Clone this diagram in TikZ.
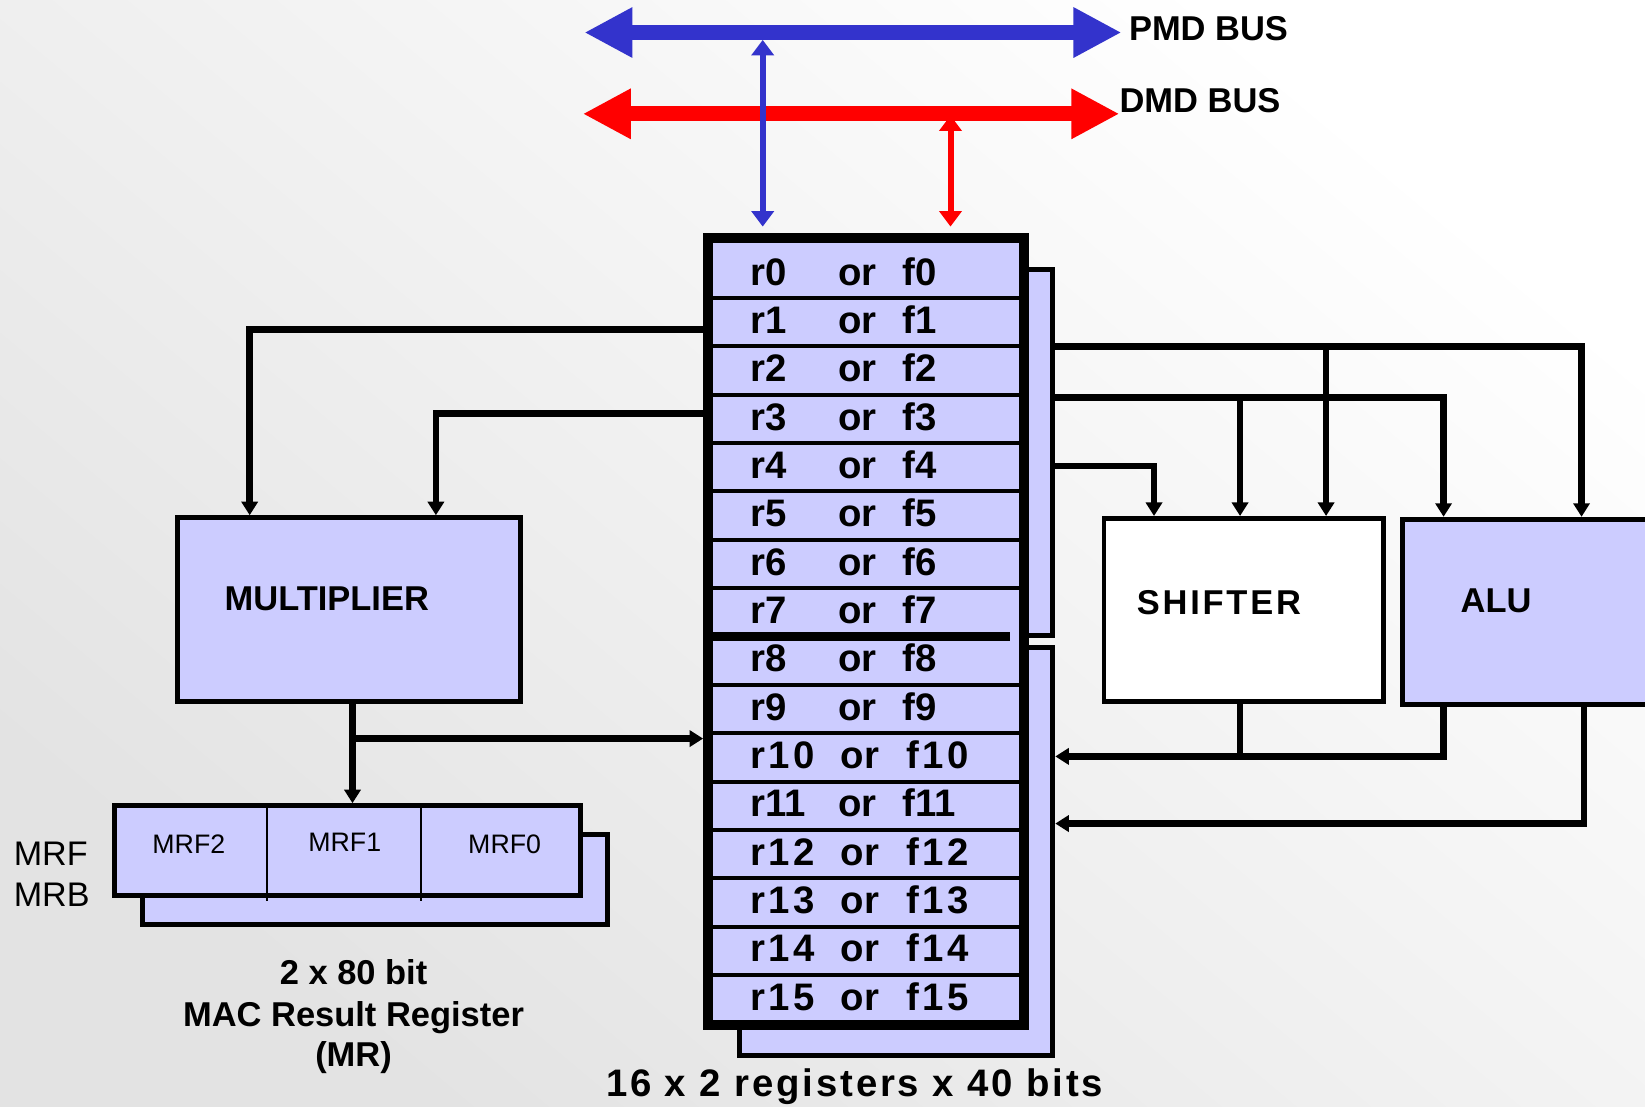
\documentclass[tikz,border=0pt]{standalone}
\usepackage{fontspec}
\setmainfont{Liberation Sans}
\newfontfamily\trackfont{Liberation Sans}[LetterSpace=9]
\newfontfamily\capfont{Liberation Sans}[LetterSpace=7.4]
\newfontfamily\shiftfont{Liberation Sans}[LetterSpace=8]
\usepackage{tikz}
\usetikzlibrary{arrows.meta,positioning}
\newlength\px
\setlength\px{0.01049cm}
\definecolor{regfill}{HTML}{CCCCFF}
\definecolor{pmdblue}{HTML}{3333CC}
\definecolor{dmdred}{HTML}{FF0000}

\begin{document}
\begin{tikzpicture}[
  x=0.01049cm, y=-0.01049cm,
  unit/.style={rectangle,draw,line width=0.05cm,fill=regfill,inner sep=0pt},
  lbl/.style={inner sep=0pt,font=\fontsize{9.8pt}{11.8pt}\selectfont\bfseries},
  small/.style={inner sep=0pt,font=\fontsize{7.6pt}{9pt}\selectfont},
  side/.style={inner sep=0pt,font=\fontsize{9.7pt}{11.6pt}\selectfont},
  regtxt/.style={inner sep=0pt,anchor=base west,font=\fontsize{10.9pt}{12pt}\selectfont\bfseries},
  rowsep/.style={line width=0.04cm},
  wire/.style={line width=0.065cm},
  feed/.style={wire,-{Triangle[length=1.35mm,width=1.6mm]}},
  link/.style={line width=0.06cm,{Triangle[length=1.55mm,width=2.2mm]}-{Triangle[length=1.55mm,width=2.2mm]}},
  bus/.style={line width=0.15cm,{Triangle[length=4.8mm,width=4.7mm]}-{Triangle[length=4.8mm,width=4.7mm]}},
]
\clip (0,0) rectangle (1568,1055);
\shade[top color=white,middle color=black!4,bottom color=black!11,shading angle=-40]
  (0,0) rectangle (1568,1055);

%% --- buses ---------------------------------------------------------------
\coordinate (pmdL) at (557,31);
\coordinate (pmdR) at (1069,31);
\coordinate (dmdL) at (555.5,108.5);
\coordinate (dmdR) at (1067,108.5);
\draw[bus,pmdblue] (pmdL) -- (pmdR);
\draw[bus,dmdred]  (dmdL) -- (dmdR);
\node[lbl,anchor=base west] (pmd) at (1075.5,39) {PMD BUS};
\node[lbl,anchor=base west] (dmd) at (1066.5,107) {DMD BUS};

%% --- register file -------------------------------------------------------
\node[unit,minimum width=298.5\px,minimum height=349\px]   (bankA) at (854.25,431) {};
\node[unit,minimum width=298.5\px,minimum height=388.5\px] (bankB) at (854.25,811.75) {};
\node[unit,line width=0.1cm,minimum width=301\px,minimum height=750\px] (rf) at (825.5,602) {};

\foreach \k in {1,2,3,4,5,6,7,9,10,11,12,13,14,15}{
  \pgfmathsetmacro\ys{284+46.1*(\k-1)}
  \draw[rowsep] (680,\ys) -- (971,\ys);
}
\draw[line width=0.09cm] (680,606.7) -- (963,606.7);

\foreach \i in {0,1,2,3,4,5,6,7,8,9,11}{
  \pgfmathsetmacro\yb{272+46.05*\i}
  \node[regtxt] (r\i) at (714.5,\yb) {r\i};
  \node[regtxt] (o\i) at (798.5,\yb) {or};
  \node[regtxt] (f\i) at (860,\yb)   {f\i};
}
\foreach \i in {10,12,13,14,15}{
  \pgfmathsetmacro\yb{272+46.05*\i}
  \node[regtxt] (r\i) at (714.5,\yb) {\trackfont r\i};
  \node[regtxt] (o\i) at (800.6,\yb) {or};
  \node[regtxt] (f\i) at (863.5,\yb) {\trackfont f\i};
}
\node[regtxt] (rfcap) at (577,1045.5) {\capfont 16 x 2 registers x 40 bits};

%% --- bus links -----------------------------------------------------------
\coordinate (pmdtap) at (727,38);
\coordinate (pmdend) at (727,216);
\coordinate (dmdtap) at (906,110);
\coordinate (dmdend) at (906,216);
\draw[link,pmdblue] (pmdtap) -- (pmdend);
\draw[link,dmdred]  (dmdtap) -- (dmdend);

%% --- units ---------------------------------------------------------------
\node[unit,minimum width=327\px,minimum height=175.5\px] (mul) at (332.5,581.25) {};
\node[lbl,anchor=base] (multxt) at (311.5,581.8) {MULTIPLIER};
\node[unit,fill=white,line width=0.045cm,minimum width=266\px,minimum height=174.5\px] (shf) at (1185.5,581.25) {};
\node[lbl,anchor=base west] (shftxt) at (1083,586) {\shiftfont SHIFTER};
\node[unit,minimum width=303\px,minimum height=176.5\px] (alu) at (1488.5,583.25) {};
\node[lbl,anchor=base] (alutxt) at (1426,584) {ALU};

%% --- MAC result register -------------------------------------------------
\node[unit,minimum width=443.5\px,minimum height=86\px]   (mrb) at (357.75,838) {};
\node[unit,minimum width=443.5\px,minimum height=85.5\px] (mrf) at (331.25,810.75) {};
\draw[line width=0.02cm] (254.5,768) -- (254.5,859);
\draw[line width=0.02cm] (401,768) -- (401,859);
\node[small,anchor=base] (mrf2) at (180,813.7) {MRF2};
\node[small,anchor=base] (mrf1) at (328.6,811.8) {MRF1};
\node[small,anchor=base] (mrf0) at (481,813.7) {MRF0};
\node[side,anchor=base west] (mrflab) at (12.5,824.7) {MRF};
\node[side,anchor=base west] (mrblab) at (12.5,863.9) {MRB};
\node[lbl,anchor=base] (mac1) at (337,938.8)  {2 x 80 bit};
\node[lbl,anchor=base] (mac2) at (337,978.8)  {MAC Result Register};
\node[lbl,anchor=base] (mac3) at (337,1016.8) {(MR)};

%% --- connectors ----------------------------------------------------------
\draw[feed] (rf.west |- 0,314) -| (238,0 |- mul.north);
\draw[feed] (rf.west |- 0,394) -| (415.5,0 |- mul.north);
\coordinate (mulsplit) at (336,704);
\draw[feed] (mulsplit |- mul.south) -- (mulsplit |- mrf.north);
\draw[feed] (mulsplit) -- (rf.west |- mulsplit);

\draw[feed] (bankA.east |- 0,330.5) -| (1507.5,0 |- alu.north);
\draw[feed] (bankA.east |- 0,379) -| (1376,0 |- alu.north);
\draw[feed] (bankA.east |- 0,444) -| (1100,0 |- shf.north);
\coordinate (tapA) at (1264,330.5);
\coordinate (tapB) at (1182,379);
\draw[feed] (tapA) -- (tapA |- shf.north);
\draw[feed] (tapB) -- (tapB |- shf.north);

\coordinate (shfjoin) at (1182,721);
\draw[wire] (shfjoin |- shf.south) -- (shfjoin);
\draw[feed] (1376,0 |- alu.south) |- (bankB.east |- shfjoin);
\draw[feed] (1510,0 |- alu.south) |- (bankB.east |- 0,785);
\end{tikzpicture}
\end{document}
